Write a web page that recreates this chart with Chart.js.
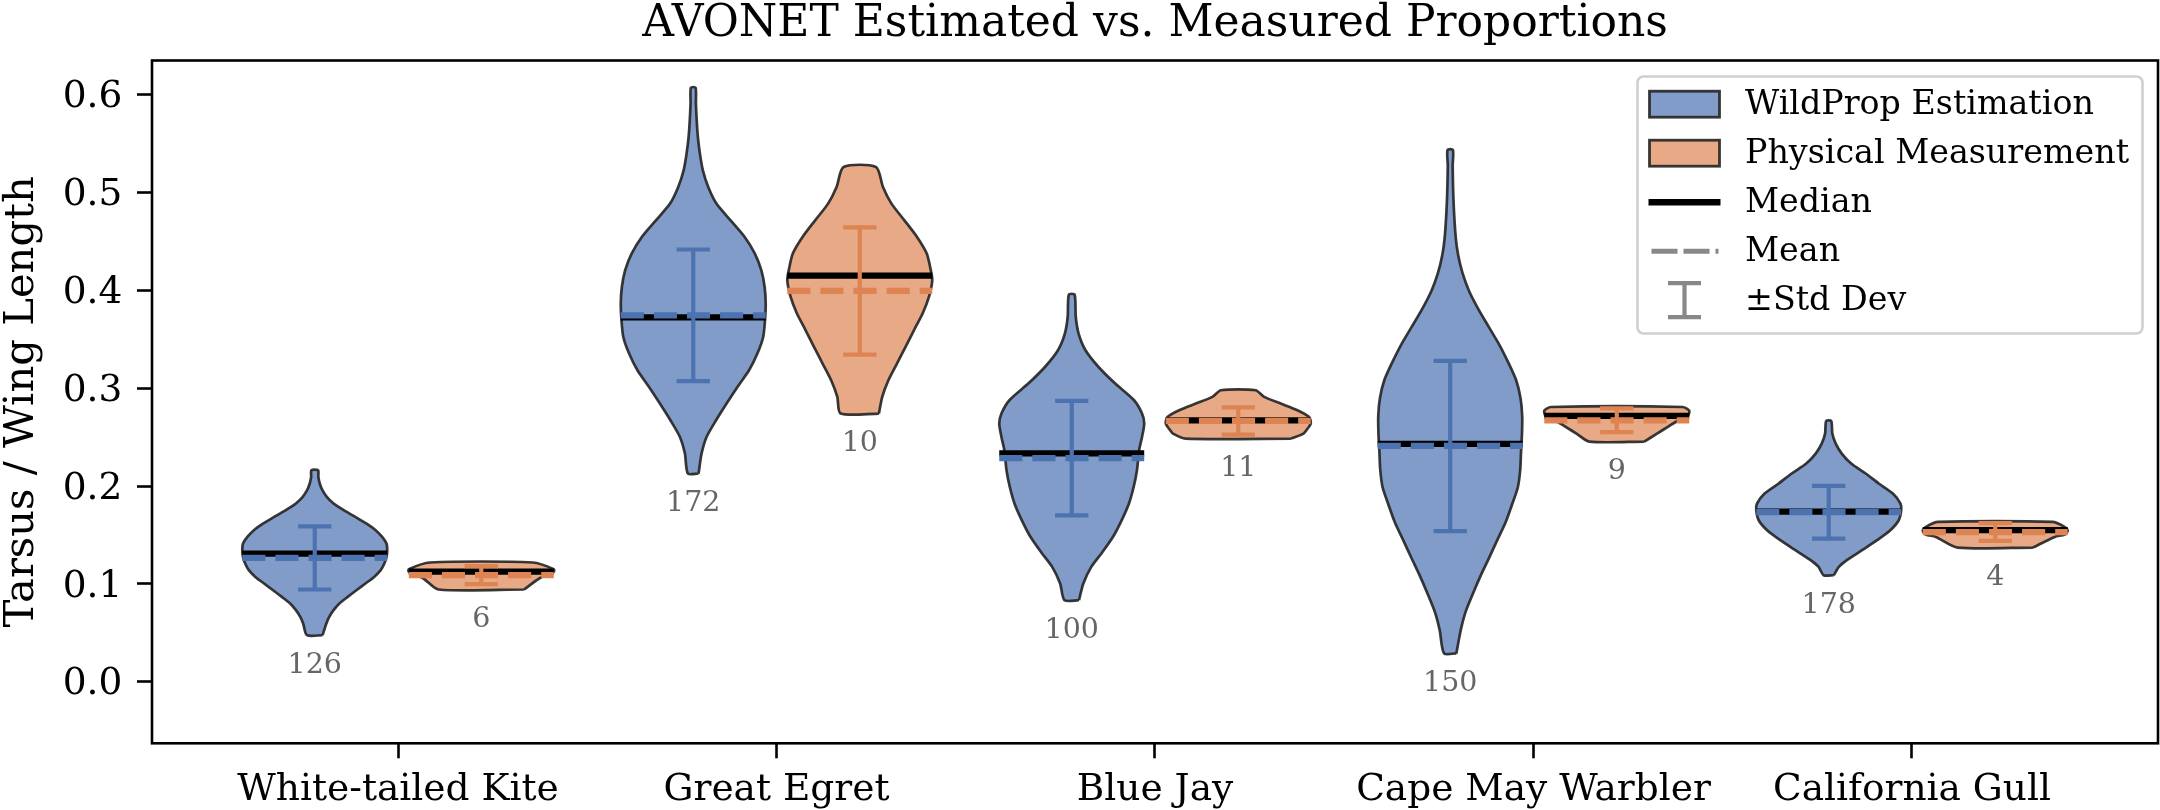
<!DOCTYPE html>
<html>
<head>
<meta charset="utf-8">
<script src="https://cdn.jsdelivr.net/npm/chart.js@4.4.1/dist/chart.umd.min.js"></script>
<style>
html,body{margin:0;padding:0;background:#ffffff;}
canvas{display:block;}
</style>
</head>
<body>
<canvas id="c" width="2160" height="810"></canvas>
<script>
// ---------------- data ----------------
const categories = ['White-tailed Kite', 'Great Egret', 'Blue Jay', 'Cape May Warbler', 'California Gull'];
const seriesNames = ['WildProp Estimation', 'Physical Measurement'];
const xTickValues = [0, 1, 2, 3, 4];
const yTickValues = [0.0, 0.1, 0.2, 0.3, 0.4, 0.5, 0.6];

// WildProp Estimation summary
const estMedian = [0.1310, 0.3725, 0.2335, 0.2431, 0.1738];
const estMean   = [0.1265, 0.3745, 0.2285, 0.2410, 0.1732];
const estStd    = [0.0323, 0.0673, 0.0585, 0.0870, 0.0269];
const estN      = [126, 172, 100, 150, 178];

// Physical Measurement summary
const measMedian = [0.1125, 0.4152, 0.2672, 0.2716, 0.1548];
const measMean   = [0.1090, 0.3994, 0.2665, 0.2672, 0.1530];
const measStd    = [0.0092, 0.0650, 0.0140, 0.0122, 0.0090];
const measN      = [6, 10, 11, 9, 4];

// violin density profiles: [value, relative half-width], bottom -> top
const kiteEst = [[0.0475,0.108],[0.0595,0.16],[0.0662,0.20],[0.0731,0.26],[0.0799,0.34],[0.0867,0.455],[0.0935,0.575],[0.1004,0.70],[0.1071,0.82],[0.1140,0.91],[0.1208,0.96],[0.1275,0.99],[0.1344,1.0],[0.1412,0.99],[0.1480,0.93],[0.1548,0.84],[0.1617,0.71],[0.1684,0.56],[0.1753,0.40],[0.1821,0.26],[0.1889,0.166],[0.1957,0.106],[0.2026,0.069],[0.2093,0.05],[0.2161,0.046]];
const egretEst = [[0.2128,0.074],[0.2332,0.115],[0.2502,0.184],[0.2672,0.315],[0.2843,0.46],[0.3013,0.61],[0.3183,0.77],[0.3354,0.885],[0.3524,0.965],[0.3694,0.99],[0.3865,1.0],[0.4035,0.985],[0.4205,0.94],[0.4376,0.85],[0.4546,0.71],[0.4716,0.515],[0.4887,0.32],[0.5057,0.207],[0.5227,0.133],[0.5398,0.092],[0.5568,0.064],[0.5738,0.048],[0.5910,0.037],[0.6072,0.032]];
const jayEst = [[0.0833,0.10],[0.1004,0.16],[0.1173,0.27],[0.1311,0.41],[0.1481,0.57],[0.1652,0.69],[0.1822,0.79],[0.1992,0.855],[0.2162,0.90],[0.2367,0.93],[0.2502,0.97],[0.2640,1.0],[0.2741,0.97],[0.2877,0.86],[0.3047,0.60],[0.3217,0.37],[0.3388,0.19],[0.3558,0.095],[0.3728,0.056],[0.3957,0.04]];
const capeEst = [[0.0289,0.085],[0.0526,0.145],[0.0709,0.21],[0.0891,0.308],[0.1074,0.414],[0.1256,0.53],[0.1439,0.644],[0.1621,0.76],[0.1804,0.85],[0.1987,0.933],[0.2169,0.966],[0.2352,0.977],[0.2533,0.99],[0.2716,0.993],[0.2898,0.97],[0.3081,0.91],[0.3264,0.80],[0.3446,0.676],[0.3629,0.53],[0.3811,0.386],[0.3994,0.26],[0.4176,0.17],[0.4359,0.11],[0.4542,0.076],[0.4906,0.046],[0.5271,0.034],[0.5436,0.037]];
const gullEst = [[0.1088,0.07],[0.1173,0.14],[0.1242,0.25],[0.1344,0.46],[0.1446,0.667],[0.1548,0.85],[0.1650,0.966],[0.1753,1.0],[0.1821,0.99],[0.1923,0.885],[0.2026,0.69],[0.2128,0.51],[0.2230,0.31],[0.2332,0.18],[0.2434,0.097],[0.2537,0.05],[0.2665,0.035]];

const kiteMeas = [[0.0942,0.59],[0.1055,0.80],[0.1122,1.0],[0.1150,1.0],[0.1218,0.71]];
const egretMeas = [[0.2741,0.264],[0.2911,0.31],[0.3081,0.395],[0.3252,0.513],[0.3422,0.632],[0.3592,0.747],[0.3763,0.867],[0.3933,0.954],[0.4103,1.0],[0.4205,0.98],[0.4376,0.924],[0.4546,0.79],[0.4716,0.616],[0.4887,0.437],[0.5057,0.32],[0.5261,0.223]];
const jayMeas = [[0.2485,0.73],[0.2536,0.90],[0.2570,0.94],[0.2639,1.0],[0.2706,0.977],[0.2775,0.816],[0.2843,0.586],[0.2911,0.357],[0.2979,0.24]];
const capeMeas = [[0.2454,0.38],[0.2533,0.55],[0.2607,0.71],[0.2662,0.83],[0.2716,0.98],[0.2771,1.0],[0.2808,0.91]];
const gullMeas = [[0.1371,0.52],[0.1480,0.82],[0.1505,0.96],[0.1545,1.0],[0.1585,0.95],[0.1633,0.79]];

const estShapes = [kiteEst, egretEst, jayEst, capeEst, gullEst];
const measShapes = [kiteMeas, egretMeas, jayMeas, capeMeas, gullMeas];

// ---------------- style ----------------
const FONT = '"DejaVu Serif", "Liberation Serif", serif';
const OFFSET = 0.22;      // violin offset from category centre (x units)
const HALF = 0.1915;      // max violin half-width (x units)
const CAP = 0.044;        // std cap half-width (x units)
const EDGE = 'rgba(35,35,35,0.9)';
const colors = {
  est:  {fill: 'rgba(76,114,176,0.7)', line: '#4C72B0'},
  meas: {fill: 'rgba(221,132,82,0.7)', line: '#DD8452'}
};

// ---------------- datasets ----------------
const datasets = [];
function addViolin(shape, center, col, median, mean, std) {
  const right = shape.map(([v, w]) => ({x: center + w * HALF, y: v}));
  const left = shape.slice().reverse().map(([v, w]) => ({x: center - w * HALF, y: v}));
  const pts = right.concat(left);
  pts.push({x: pts[0].x, y: pts[0].y});
  datasets.push({data: pts, fill: 'shape', backgroundColor: col.fill, borderColor: EDGE,
    borderWidth: 2.7, pointRadius: 0, tension: 0.25, order: 10});
  datasets.push({data: [{x: center - HALF, y: median}, {x: center + HALF, y: median}],
    borderColor: '#000', borderWidth: 6.25, pointRadius: 0, fill: false, order: 3});
  datasets.push({data: [{x: center - HALF, y: mean}, {x: center + HALF, y: mean}],
    borderColor: col.line, borderWidth: 6.25, borderDash: [23.1, 10], pointRadius: 0, fill: false, order: 2});
  datasets.push({data: [{x: center, y: mean - std}, {x: center, y: mean + std}],
    borderColor: col.line, borderWidth: 4.2, pointRadius: 0, fill: false, order: 1});
  datasets.push({data: [{x: center - CAP, y: mean + std}, {x: center + CAP, y: mean + std}],
    borderColor: col.line, borderWidth: 4.2, pointRadius: 0, fill: false, order: 1});
  datasets.push({data: [{x: center - CAP, y: mean - std}, {x: center + CAP, y: mean - std}],
    borderColor: col.line, borderWidth: 4.2, pointRadius: 0, fill: false, order: 1});
}
categories.forEach((c, i) => {
  addViolin(estShapes[i], xTickValues[i] - OFFSET, colors.est, estMedian[i], estMean[i], estStd[i]);
  addViolin(measShapes[i], xTickValues[i] + OFFSET, colors.meas, measMedian[i], measMean[i], measStd[i]);
});

// ---------------- extra drawing plugin ----------------
const extras = {
  id: 'extras',
  afterDatasetsDraw(chart) {
    const {ctx, chartArea: ca, scales: {x, y}} = chart;
    ctx.save();
    // axes frame
    ctx.strokeStyle = '#000';
    ctx.lineWidth = 2.6;
    ctx.strokeRect(ca.left, ca.top, ca.right - ca.left, ca.bottom - ca.top);
    // sample counts
    ctx.fillStyle = '#666666';
    ctx.font = '28.5px ' + FONT;
    ctx.textAlign = 'center';
    ctx.textBaseline = 'alphabetic';
    categories.forEach((c, i) => {
      const e = x.getPixelForValue(xTickValues[i] - OFFSET);
      const m = x.getPixelForValue(xTickValues[i] + OFFSET);
      ctx.fillText(String(estN[i]), e, y.getPixelForValue(estShapes[i][0][0]) + 37.5);
      ctx.fillText(String(measN[i]), m, y.getPixelForValue(measShapes[i][0][0]) + 37.5);
    });
    ctx.restore();
  },
  afterDraw(chart) {
    const {ctx, chartArea: ca} = chart;
    ctx.save();
    const bw = 505, bh = 257;
    const bx = ca.right - 15.5 - bw, by = ca.top + 16;
    // legend frame
    ctx.beginPath();
    ctx.roundRect(bx, by, bw, bh, 6);
    ctx.fillStyle = 'rgba(255,255,255,0.8)';
    ctx.fill();
    ctx.strokeStyle = '#d0d0d0';
    ctx.lineWidth = 2.6;
    ctx.stroke();
    const hx = bx + 12, hw = 70;
    const rowY = i => by + 27.7 + 49 * i;
    // patches
    [colors.est, colors.meas].forEach((col, i) => {
      ctx.fillStyle = col.fill;
      ctx.fillRect(hx, rowY(i) - 13, hw, 26);
      ctx.strokeStyle = EDGE;
      ctx.lineWidth = 2.8;
      ctx.strokeRect(hx, rowY(i) - 13, hw, 26);
    });
    // median
    ctx.strokeStyle = '#000';
    ctx.lineWidth = 6.5;
    ctx.beginPath(); ctx.moveTo(hx - 1, rowY(2)); ctx.lineTo(hx + hw + 1, rowY(2)); ctx.stroke();
    // mean
    ctx.strokeStyle = '#888888';
    ctx.lineWidth = 5;
    ctx.setLineDash([26, 6]);
    ctx.beginPath(); ctx.moveTo(hx + 2, rowY(3)); ctx.lineTo(hx + hw - 1, rowY(3)); ctx.stroke();
    ctx.setLineDash([]);
    // std
    const cx = hx + hw / 2, r4 = rowY(4);
    ctx.lineWidth = 4.2;
    ctx.beginPath();
    ctx.moveTo(cx, r4 - 17); ctx.lineTo(cx, r4 + 17);
    ctx.moveTo(cx - 16.5, r4 - 17); ctx.lineTo(cx + 16.5, r4 - 17);
    ctx.moveTo(cx - 16.5, r4 + 17); ctx.lineTo(cx + 16.5, r4 + 17);
    ctx.stroke();
    // labels
    ctx.fillStyle = '#000';
    ctx.font = '33.3px ' + FONT;
    ctx.textAlign = 'left';
    ctx.textBaseline = 'middle';
    const labels = [seriesNames[0], seriesNames[1], 'Median', 'Mean', '\u00b1Std Dev'];
    labels.forEach((t, i) => ctx.fillText(t, bx + 107.5, rowY(i) + 1.5));
    ctx.restore();
  }
};

// ---------------- chart ----------------
new Chart(document.getElementById('c'), {
  type: 'line',
  data: {datasets},
  plugins: [extras],
  options: {
    responsive: false,
    animation: false,
    devicePixelRatio: 1,
    events: [],
    layout: {padding: {left: 0, right: 2, top: 0, bottom: 0}},
    plugins: {
      legend: {display: false},
      tooltip: {enabled: false},
      title: {
        display: true,
        fullSize: false,
        text: 'AVONET Estimated vs. Measured Proportions',
        color: '#000',
        font: {family: FONT, size: 44, weight: 'normal', lineHeight: 0.8},
        padding: {top: 7.2, bottom: 18.1}
      }
    },
    scales: {
      x: {
        type: 'linear',
        min: -0.65,
        max: 4.65,
        afterBuildTicks: s => { s.ticks = xTickValues.map(v => ({value: v})); },
        afterFit: s => { s.height = 66.7; },
        ticks: {
          autoSkip: false, maxRotation: 0, minRotation: 0,
          color: '#000', padding: 9,
          font: {family: FONT, size: 37.5},
          callback: v => categories[Math.round(v)]
        },
        grid: {display: true, drawOnChartArea: false, drawTicks: true, tickLength: 15, tickWidth: 2.6, tickColor: '#000'},
        border: {display: false}
      },
      y: {
        type: 'linear',
        min: -0.063,
        max: 0.635,
        afterBuildTicks: s => { s.ticks = yTickValues.map(v => ({value: v})); },
        afterFit: s => { s.width = 152; },
        ticks: {
          color: '#000', padding: 14.6, labelOffset: 3,
          font: {family: FONT, size: 37.5},
          callback: v => Number(v).toFixed(1)
        },
        grid: {display: true, drawOnChartArea: false, drawTicks: true, tickLength: 15, tickWidth: 2.6, tickColor: '#000'},
        border: {display: false},
        title: {
          display: true,
          text: 'Tarsus / Wing Length',
          color: '#000',
          font: {family: FONT, size: 41.7, weight: 'normal', lineHeight: 0.8},
          padding: {top: 5.5, bottom: 0}
        }
      }
    }
  }
});
</script>
</body>
</html>
